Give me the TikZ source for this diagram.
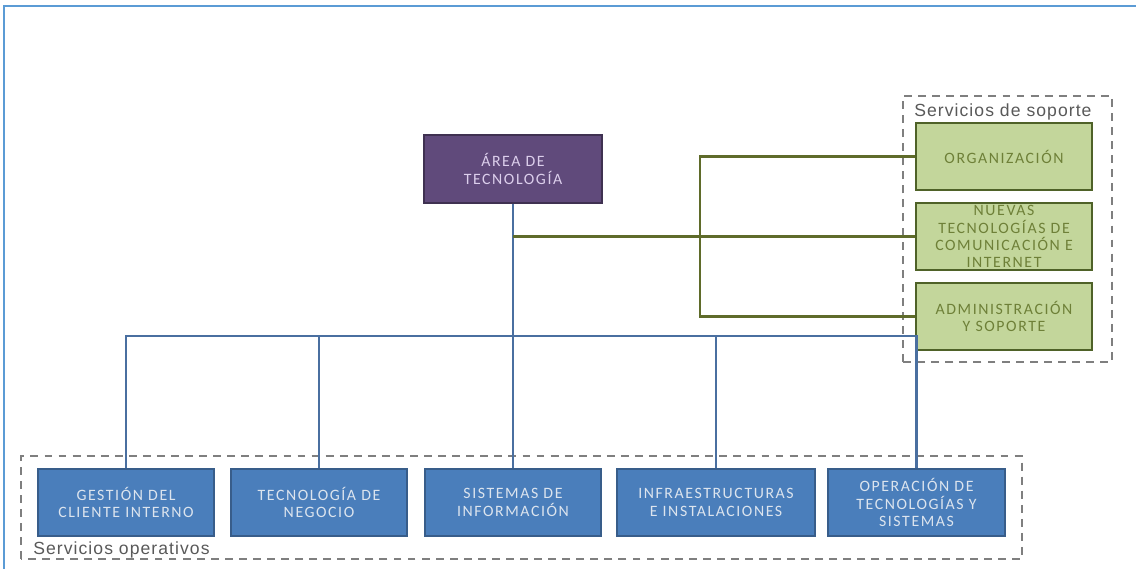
\documentclass[tikz,border=0pt]{standalone}
\usepackage{fontspec}
\setmainfont{Carlito}
\newfontfamily\boxfont[LetterSpace=10]{Carlito}
\newfontfamily\labfont[LetterSpace=6]{Liberation Sans}

\definecolor{framecol}{HTML}{5B9BD5}
\definecolor{bluefill}{HTML}{4A7EBB}
\definecolor{blueedge}{HTML}{385D8A}
\definecolor{bluetext}{HTML}{DCE4EE}
\definecolor{purplefill}{HTML}{604A7B}
\definecolor{purpleedge}{HTML}{3F3151}
\definecolor{purpletext}{HTML}{DCCFEC}
\definecolor{greenfill}{HTML}{C3D69B}
\definecolor{greenedge}{HTML}{4F6228}
\definecolor{greentext}{HTML}{6E8038}
\definecolor{bluelinecol}{HTML}{4A6FA0}
\definecolor{greenlinecol}{HTML}{5F6B2A}
\definecolor{groupcol}{HTML}{7F7F7F}
\definecolor{labcol}{HTML}{595959}

\begin{document}
\begin{tikzpicture}[line join=miter,
  unitbox/.style={draw, line width=1.3pt, minimum width=3.52cm, minimum height=1.34cm,
    inner sep=0pt, align=center, font=\boxfont\fontsize{9}{9.8}\selectfont},
  bluebox/.style={unitbox, fill=bluefill, draw=blueedge, text=bluetext},
  purplebox/.style={unitbox, fill=purplefill, draw=purpleedge, text=purpletext,
    minimum width=3.56cm, minimum height=1.36cm},
  greenbox/.style={unitbox, fill=greenfill, draw=greenedge, text=greentext},
  bluelink/.style={draw=bluelinecol, line width=1.4pt},
  greenlink/.style={draw=greenlinecol, line width=1.4pt},
  groupline/.style={draw=groupcol, line width=1.1pt, dash pattern=on 4.5pt off 3.5pt},
  grouplabel/.style={anchor=west, inner sep=0pt, text=labcol,
    font=\labfont\fontsize{10}{12}\selectfont}]
  \useasboundingbox (0,0) rectangle (22.72,11.38);

  % Outer frame
  \draw[framecol, line width=1.4pt] (0.08,0) -- (0.08,11.26) -- (22.72,11.26);

  % Dashed groups
  \draw[groupline] (18.06,4.14) rectangle (22.24,9.46);
  \draw[groupline] (0.42,0.2) rectangle (20.44,2.26);
  \node[grouplabel] (soplab) at (18.28,9.14) {Servicios de soporte};
  \node[grouplabel] (oplab) at (0.66,0.38) {Servicios operativos};

  % Head
  \node[purplebox] (area) at (10.26,8.0) {ÁREA DE\\TECNOLOGÍA};

  % Support services
  \node[greenbox] (org) at (20.08,8.25) {ORGANIZACIÓN};
  \node[greenbox] (nuevas) at (20.08,6.65) {NUEVAS\\TECNOLOGÍAS DE\\COMUNICACIÓN E\\INTERNET};
  \node[greenbox] (admin) at (20.08,5.05) {ADMINISTRACIÓN\\Y SOPORTE};

  % Operative services
  \node[bluebox] (gest) at (2.52,1.33) {GESTIÓN DEL\\CLIENTE INTERNO};
  \node[bluebox] (tec) at (6.38,1.33) {TECNOLOGÍA DE\\NEGOCIO};
  \node[bluebox] (sis) at (10.26,1.33) {SISTEMAS DE\\INFORMACIÓN};
  \node[bluebox, minimum width=3.96cm] (infra) at (14.32,1.33) {INFRAESTRUCTURAS\\E INSTALACIONES};
  \node[bluebox, minimum width=3.54cm] (oper) at (18.33,1.33) {OPERACIÓN DE\\TECNOLOGÍAS Y\\SISTEMAS};

  % Connectors
  \coordinate (bus) at (0,4.66);
  \coordinate (brk) at (14.0,0);
  \draw[bluelink] (area) -- (sis);
  \draw[bluelink] (gest.north) -- (gest.north |- bus) -- (oper.north |- bus) -- (oper.north);
  \foreach \n in {tec,infra}
    \draw[bluelink] (\n.north) -- (\n.north |- bus);
  \draw[greenlink] (nuevas.west) -- (nuevas.west -| area.south);
  \draw[greenlink] (org.west) -- (org.west -| brk) -- (admin.west -| brk) -- (admin.west);
\end{tikzpicture}
\end{document}
